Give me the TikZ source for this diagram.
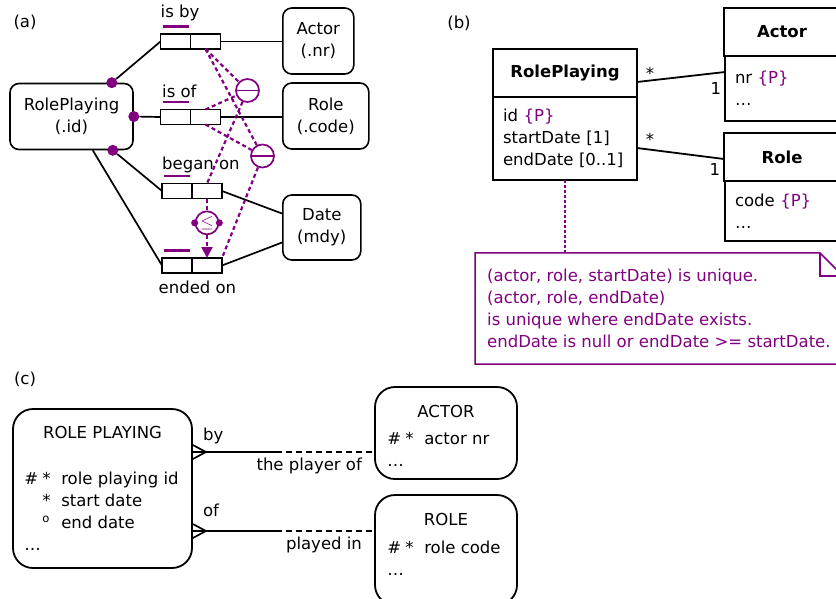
\documentclass[tikz,border=0pt]{standalone}
\usepackage{fontspec}
\setmainfont{DejaVu Sans}
\usetikzlibrary{positioning}
\usetikzlibrary{arrows.meta}

\definecolor{ormpurple}{RGB}{128,0,128}
\newcommand{\diagfont}{\fontsize{16.5}{22}\selectfont}
\newcommand{\pkey}{\textcolor{ormpurple}{\{P\}}}
\newcommand{\erattr}[3]{\makebox[18pt][l]{#1}\makebox[19pt][l]{#2}#3}

\begin{document}
\begin{tikzpicture}[x=1pt, y=-1pt, font=\diagfont,
  objtype/.style={draw, rounded corners=9pt, line width=1.6pt, align=center, minimum height=66pt},
  rolebox/.style={draw, rectangle, line width=1.6pt, minimum width=30pt, minimum height=15pt, inner sep=0pt, outer sep=0pt},
  link/.style={line width=1.7pt},
  mandot/.style={circle, fill=ormpurple, minimum size=11pt, inner sep=0pt},
  ucbar/.style={ormpurple, line width=2.5pt},
  constr/.style={ormpurple, line width=2.2pt, dash pattern=on 4pt off 3pt},
  extuc/.style={circle, draw=ormpurple, fill=white, line width=1.7pt, minimum size=23pt, inner sep=0pt,
    path picture={\draw[ormpurple, line width=1.7pt] (path picture bounding box.west) -- (path picture bounding box.east);}},
  subsetc/.style={circle, draw=ormpurple, fill=white, line width=1.7pt, minimum size=23pt, inner sep=0pt, text=ormpurple,
    font=\fontsize{19}{22}\selectfont},
  condot/.style={circle, fill=ormpurple, minimum size=7pt, inner sep=0pt},
  factlabel/.style={anchor=base west, inner sep=0pt},
  classhead/.style={draw, rectangle, line width=2.2pt, minimum width=144pt, minimum height=48pt, inner sep=0pt, outer sep=0pt, font=\diagfont\bfseries},
  classbody/.style={draw, rectangle, line width=2.2pt, inner xsep=10pt, inner ysep=0pt, outer sep=0pt, align=left},
  assoc/.style={line width=1.8pt},
  mult/.style={inner sep=2pt},
  notebox/.style={align=left, text=ormpurple, inner xsep=12pt, inner ysep=0pt, minimum height=111pt, anchor=west},
  notepath/.style={draw=ormpurple, line width=1.5pt},
  noteline/.style={ormpurple, line width=2.2pt, dash pattern=on 3pt off 2pt},
  erbox/.style={draw, rounded corners=20pt, line width=1.8pt, inner sep=0pt},
  ertitle/.style={anchor=base, inner sep=0pt},
  erattrs/.style={anchor=north west, align=left, inner sep=0pt},
  optional/.style={line width=2pt, dash pattern=on 6pt off 4pt}]

  \useasboundingbox (0,0) rectangle (836,598);
  \clip (0,0) rectangle (836,598);

  % (a) ORM schema

  \node (lbla) at (25,22) {(a)};

  \node[objtype, minimum width=123pt] (rp) at (71.5,116.5) {RolePlaying\\(.id)};
  \node[objtype, minimum width=71pt, anchor=west] (actor) at (282,41) {Actor\\(.nr)};
  \node[objtype, minimum width=86pt, anchor=west] (role) at (282,116) {Role\\(.code)};
  \node[objtype, minimum width=78pt, minimum height=65pt, anchor=west] (date) at (282,227.5) {Date\\(mdy)};

  \node[rolebox] (isbyL) at (175.5,41.5) {};
  \node[rolebox, right=0pt of isbyL] (isbyR) {};
  \node[rolebox] (isofL) at (175.5,117) {};
  \node[rolebox, right=0pt of isofL] (isofR) {};
  \node[rolebox] (beganL) at (177,191) {};
  \node[rolebox, right=0pt of beganL] (beganR) {};
  \node[rolebox] (endedL) at (177,265.5) {};
  \node[rolebox, right=0pt of endedL] (endedR) {};

  \node[factlabel] (isbytxt) at ([yshift=17pt]isbyL.north west) {is by};
  \node[factlabel] (isoftxt) at ([xshift=1.5pt, yshift=12.5pt]isofL.north west) {is of};
  \node[factlabel] (begantxt) at ([yshift=14.5pt]beganL.north west) {began on};
  \node[factlabel] (endedtxt) at ([xshift=-3.5pt, yshift=-20pt]endedL.south west) {ended on};

  \foreach \f in {isby,isof,began,ended}
    \draw[ucbar] ([xshift=2pt, yshift=7.5pt]\f L.north west) -- ([xshift=-2pt, yshift=7.5pt]\f L.north east);

  % mandatory roles
  \node[mandot, xshift=-22pt] (rpby) at (rp.north east) {};
  \node[mandot] (rpof) at (rp.east) {};
  \node[mandot, xshift=-21pt] (rpbegan) at (rp.south east) {};
  \coordinate[xshift=-41pt] (rpended) at (rp.south east);

  \draw[link] (rpby) -- (isbyL.west);
  \draw[link] (rpof) -- (isofL.west);
  \draw[link] (rpbegan) -- (beganL.west);
  \draw[link] (rpended) -- (endedL.west);
  \draw[link] (isbyR.east) -- (actor.west |- isbyR.east);
  \draw[link] (isofR.east) -- (role.west |- isofR.east);
  \draw[link] (beganR.east) -- ([yshift=14pt]date.west);
  \draw[link] (endedR.east) -- ([yshift=-15pt]date.west);

  % external uniqueness and subset
  \node[extuc] (uc1) at (247.5,90.5) {};
  \node[extuc] (uc2) at (262.5,156) {};
  \node[subsetc, below=12pt of beganR] (ss) {$\leq$};

  \draw[constr] (isbyR.south) -- (uc1);
  \draw[constr] (isbyR.south) -- (uc2);
  \draw[constr] (isofR.north) -- (uc1);
  \draw[constr] (isofR.south) -- (uc2);
  \draw[constr] (uc1) -- (beganR.north);
  \draw[constr] (uc2) -- (endedR.north east);
  \draw[constr] (beganR.south) -- (ss);
  \draw[constr, -{Triangle[width=11pt, length=11pt]}] (ss) -- (endedR.north);

  \node[condot] (ssl) at (ss.west) {};
  \node[condot] (ssr) at (ss.east) {};

  % (b) UML classes

  \node (lblb) at (459,23) {(b)};

  \node[classhead] (rphead) at (565,73) {RolePlaying};
  \node[classbody, text width=124pt, minimum height=83pt, below=0pt of rphead] (rpbody) {id \pkey\\startDate [1]\\endDate [0..1]};

  \node[classhead, minimum width=116pt] (acthead) at (782,32) {Actor};
  \node[classbody, text width=94pt, minimum height=65pt, below=0pt of acthead] (actbody) {nr \pkey\\\dots};

  \node[classhead, minimum width=116pt] (rolhead) at (782,157) {Role};
  \node[classbody, text width=94pt, minimum height=60pt, below=0pt of rolhead] (rolbody) {code \pkey\\\dots};

  \draw[assoc] ([yshift=-9pt]rphead.east) -- node[mult, pos=0, above right, xshift=6pt] (m1a) {*}
    node[mult, pos=1, below left=8pt and 1pt] (m1b) {1} ([yshift=-16pt]actbody.north west);
  \draw[assoc] ([yshift=-9.5pt]rpbody.east) -- node[mult, pos=0, above right, xshift=6pt] (m2a) {*}
    node[mult, pos=1, below left=2pt and 1pt] (m2b) {1} ([yshift=-2pt]rolhead.west);

  % note
  \node[notebox] (note) at (475,308.5) {(actor, role, startDate) is unique.\\(actor, role, endDate)\\is unique where endDate exists.\\endDate is null or endDate >= startDate.};
  \draw[notepath] (note.north west) -- ([xshift=-23pt]note.north east) -- ([yshift=-23pt]note.north east)
    -- (note.south east) -- (note.south west) -- cycle;
  \draw[notepath] ([xshift=-23pt]note.north east) |- ([yshift=-23pt]note.north east);
  \draw[noteline] (rpbody.south) -- (rpbody.south |- note.north);

  % (c) ER entities

  \node (lblc) at (25,379) {(c)};

  \node[erbox, minimum width=179pt, minimum height=159pt] (rpc) at (102.5,488.5) {};
  \node[ertitle] (rpctitle) at ([yshift=-30pt]rpc.north) {ROLE PLAYING};
  \node[erattrs] (rpcattrs) at ([xshift=12pt, yshift=-63.5pt]rpc.north west)
    {\erattr{\#}{*}{role playing id}\\\erattr{}{*}{start date}\\\erattr{}{\textsuperscript{o}}{end date}\\\dots};

  \node[erbox, minimum width=142pt, minimum height=92pt] (actc) at (446,433) {};
  \node[ertitle] (actctitle) at ([yshift=-31pt]actc.north) {ACTOR};
  \node[erattrs] (actcattrs) at ([xshift=13pt, yshift=-45.5pt]actc.north west) {\erattr{\#}{*}{actor nr}\\\dots};

  \node[erbox, minimum width=142pt, minimum height=110pt] (rolc) at (446,550) {};
  \node[ertitle] (rolctitle) at ([yshift=-31pt]rolc.north) {ROLE};
  \node[erattrs] (rolcattrs) at ([xshift=13pt, yshift=-46.5pt]rolc.north west) {\erattr{\#}{*}{role code}\\\dots};

  % relationships
  \coordinate[yshift=36.5pt] (byfoot) at (rpc.east);
  \coordinate[yshift=-42.5pt] (offoot) at (rpc.east);

  \draw[link] ([yshift=7pt]byfoot) -- ([xshift=13pt]byfoot) -- ([yshift=-7pt]byfoot);
  \draw[link] (byfoot) -- ++(83pt,0) coordinate (bymid);
  \draw[optional] (bymid) -- (actc.west |- bymid) coordinate (byend);
  \node[anchor=base west, inner sep=0pt] (bytxt) at ([xshift=10pt, yshift=12pt]byfoot) {by};
  \node[anchor=base east, inner sep=0pt] (playertxt) at ([xshift=-12pt, yshift=-18pt]byend) {the player of};

  \draw[link] ([yshift=7pt]offoot) -- ([xshift=13pt]offoot) -- ([yshift=-7pt]offoot);
  \draw[link] (offoot) -- ++(83pt,0) coordinate (ofmid);
  \draw[optional] (ofmid) -- (rolc.west |- ofmid) coordinate (ofend);
  \node[anchor=base west, inner sep=0pt] (oftxt) at ([xshift=10pt, yshift=15pt]offoot) {of};
  \node[anchor=base east, inner sep=0pt] (playedtxt) at ([xshift=-12pt, yshift=-18pt]ofend) {played in};

\end{tikzpicture}
\end{document}
